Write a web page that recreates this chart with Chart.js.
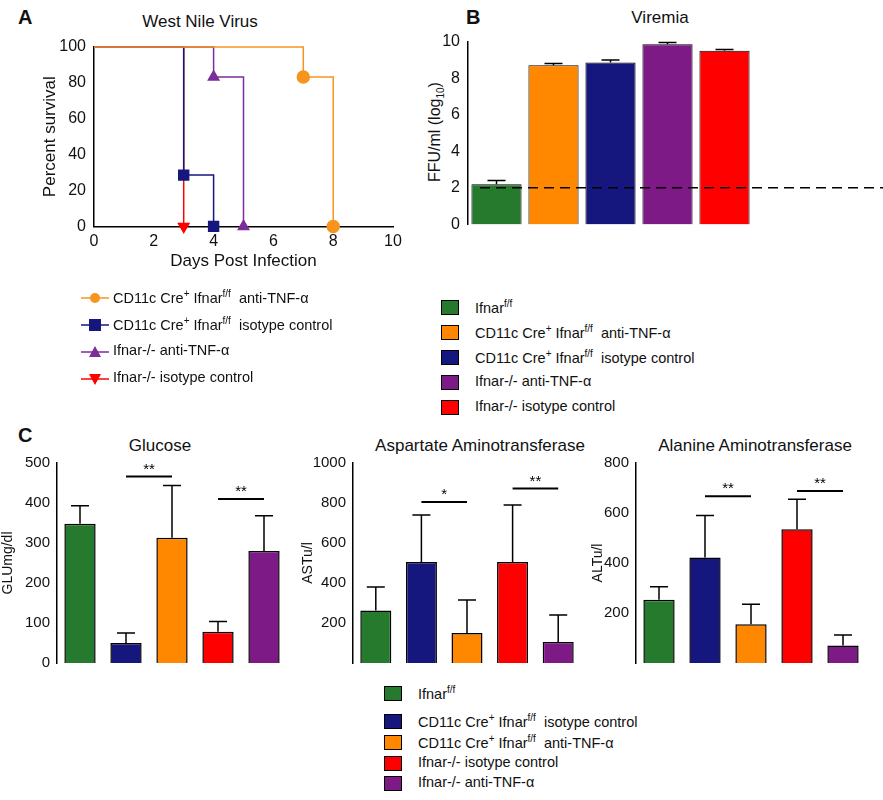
<!DOCTYPE html>
<html><head><meta charset="utf-8">
<script src="https://cdn.jsdelivr.net/npm/chart.js@4"></script>
<style>
body{margin:0;width:883px;height:800px;position:relative;background:#fff;font-family:"Liberation Sans",Arial,sans-serif;color:#111;overflow:hidden}
.abs{position:absolute}
.pl{font-weight:bold;font-size:20px}
.ttl{font-size:17px;text-align:center}
.leg{font-size:14.5px;white-space:nowrap}
.sq{position:absolute;width:16px;height:13px;border:1px solid #000}
.rot{transform:rotate(-90deg);transform-origin:center;white-space:nowrap;font-size:16px}
sup,sub{font-size:10px}
</style></head><body>
<div class="abs pl" style="left:18px;top:6px">A</div>
<div class="abs pl" style="left:466px;top:6px">B</div>
<div class="abs pl" style="left:18px;top:424px">C</div>
<div class="abs ttl" style="left:100px;top:12px;width:200px">West Nile Virus</div>
<div class="abs ttl" style="left:590px;top:8px;width:140px">Viremia</div>
<div class="abs ttl" style="left:80px;top:436px;width:160px">Glucose</div>
<div class="abs ttl" style="left:360px;top:436px;width:240px">Aspartate Aminotransferase</div>
<div class="abs ttl" style="left:640px;top:436px;width:230px">Alanine Aminotransferase</div>
<div class="abs rot" style="left:376px;top:122px;width:120px;text-align:center">FFU/ml (log<sub>10</sub>)</div>

<canvas id="cA" class="abs" style="left:40px;top:30px"></canvas>
<canvas id="cB" class="abs" style="left:420px;top:30px"></canvas>
<canvas id="cG" class="abs" style="left:0px;top:450px"></canvas>
<canvas id="cS" class="abs" style="left:300px;top:450px"></canvas>
<canvas id="cL" class="abs" style="left:590px;top:450px"></canvas>
<canvas id="legA" class="abs" style="left:75px;top:285px" width="40" height="110"></canvas>
<div id="legAtxt"></div>
<div id="legB"></div>
<div id="legC"></div>

<script>
// survival curves (day, percent)
var survOrange = [[0,100],[7,100],[7,83.3],[8,83.3],[8,0]];
var survBlue = [[0,100],[3,100],[3,28.6],[4,28.6],[4,0]];
var survPurple = [[0,100],[4,100],[4,83.3],[5,83.3],[5,0]];
var survRed = [[0,100],[3,100],[3,0]];

var viremiaGroups = ['Ifnar f/f','CD11c Cre+ anti-TNF','CD11c Cre+ isotype','Ifnar-/- anti-TNF','Ifnar-/- isotype'];
var viremiaVals = [2.2, 8.7, 8.85, 9.85, 9.5];
var viremiaErr = [0.2, 0.1, 0.15, 0.1, 0.07];
var viremiaLimit = 2;

var cGroups = ['Ifnar f/f','CD11c isotype','CD11c anti-TNF','Ifnar-/- isotype','Ifnar-/- anti-TNF'];
var gluVals = [348, 50, 313, 78, 280];
var gluErr = [45, 25, 131, 26, 88];
var astVals = [262, 505, 150, 505, 105];
var astErr = [118, 235, 165, 285, 135];
var altVals = [253, 422, 155, 535, 70];
var altErr = [52, 168, 80, 120, 42];
// significance bars: [from group, to group, y value, label]
var gluSig = [[1,2,466,'**'],[3,4,410,'**']];
var astSig = [[1,2,805,'*'],[3,4,872,'**']];
var altSig = [[1,2,667,'**'],[3,4,688,'**']];

var GREEN='#267a2e', ORANGE='#ff8800', NAVY='#16167f', PURPLE='#7d1a86', RED='#ff0000';
var LORANGE='#f7941d', LPURPLE='#7b2d9a';

Chart.defaults.font.family = '"Liberation Sans", Arial, sans-serif';
Chart.defaults.color = '#111';
Chart.defaults.animation = false;

function mkCanvas(id, w, h) {
    var c = document.getElementById(id);
    c.width = w; c.height = h;
    c.style.width = w + 'px'; c.style.height = h + 'px';
    return c;
}

var extras = {
    id: 'extras',
    afterDatasetsDraw: function(chart) {
	var ctx = chart.ctx, o = chart.options.plugins.extras || {};
	var ys = chart.scales.y;
	chart.data.datasets.forEach(function(ds, di) {
	    if (!ds.err) return;
	    var meta = chart.getDatasetMeta(di);
	    meta.data.forEach(function(bar, i) {
		var top = ys.getPixelForValue(ds.data[i] + ds.err[i]);
		ctx.save(); ctx.strokeStyle = '#000'; ctx.lineWidth = 1.5;
		ctx.beginPath();
		ctx.moveTo(bar.x, bar.y); ctx.lineTo(bar.x, top);
		ctx.moveTo(bar.x - 9, top); ctx.lineTo(bar.x + 9, top);
		ctx.stroke(); ctx.restore();
	    });
	});
	if (o.limit != null) {
	    var y = ys.getPixelForValue(o.limit);
	    ctx.save(); ctx.strokeStyle = '#000'; ctx.lineWidth = 1.5; ctx.setLineDash([10, 6]);
	    ctx.beginPath(); ctx.moveTo(chart.chartArea.left + 12, y); ctx.lineTo(chart.width, y);
	    ctx.stroke(); ctx.restore();
	}
	(o.sig || []).forEach(function(s) {
	    var meta = chart.getDatasetMeta(0);
	    var x1 = meta.data[s[0]].x, x2 = meta.data[s[1]].x, y = ys.getPixelForValue(s[2]);
	    ctx.save(); ctx.strokeStyle = '#000'; ctx.lineWidth = 2;
	    ctx.beginPath(); ctx.moveTo(x1, y); ctx.lineTo(x2, y); ctx.stroke();
	    ctx.fillStyle = '#000'; ctx.font = '15px "Liberation Sans"'; ctx.textAlign = 'center';
	    ctx.fillText(s[3], (x1 + x2) / 2, y - 3);
	    ctx.restore();
	});
    }
};

// Panel A
function pts(a) { return a.map(function(p) { return {x: p[0], y: p[1]}; }); }
function rad(n, idx, r) { var a = []; for (var i = 0; i < n; i++) a.push(idx.indexOf(i) >= 0 ? r : 0); return a; }
function survDs(d, col, style, idx, r) {
    return {data: pts(d), borderColor: col, backgroundColor: col, borderWidth: 1.5,
	    pointStyle: style, pointRadius: rad(d.length, idx, r), tension: 0};
}
var redDs = survDs(survRed, RED, 'triangle', [2], 6);
redDs.rotation = 180;
new Chart(mkCanvas('cA', 370, 242).getContext('2d'), {
    type: 'line',
    data: {datasets: [
	survDs(survOrange, LORANGE, 'circle', [2, 4], 6),
	survDs(survPurple, LPURPLE, 'triangle', [2, 4], 6),
	survDs(survBlue, NAVY, 'rect', [2, 4], 7),
	redDs
    ]},
    options: {
	responsive: false, clip: false,
	layout: {padding: {top: 17, right: 17}},
	plugins: {legend: {display: false}, tooltip: {enabled: false}},
	scales: {
	    x: {type: 'linear', min: 0, max: 10, ticks: {stepSize: 2, font: {size: 16}, padding: 0},
		grid: {display: false, tickLength: 6}, border: {color: '#000', width: 1.5},
		title: {display: true, text: 'Days Post Infection', font: {size: 17}, padding: 0}},
	    y: {min: 0, max: 100, ticks: {stepSize: 20, font: {size: 16}, padding: 2},
		grid: {display: false, tickLength: 6}, border: {color: '#000', width: 1.5},
		title: {display: true, text: 'Percent survival', font: {size: 17}, padding: 0},
		afterFit: function(s) { s.width = 54; }}
	}
    }
});

// Panel B
new Chart(mkCanvas('cB', 463, 206).getContext('2d'), {
    type: 'bar',
    data: {labels: viremiaGroups, datasets: [{data: viremiaVals, err: viremiaErr,
	backgroundColor: [GREEN, ORANGE, NAVY, PURPLE, RED], borderColor: '#000', borderWidth: 1,
	categoryPercentage: 1, barPercentage: 0.88}]},
    options: {
	responsive: false,
	layout: {padding: {top: 10, right: 130}},
	plugins: {legend: {display: false}, tooltip: {enabled: false}, extras: {limit: viremiaLimit}},
	scales: {
	    x: {ticks: {display: false}, grid: {display: false}, border: {display: false},
		afterFit: function(s) { s.height = 9; }},
	    y: {min: 0, max: 10, ticks: {stepSize: 2, font: {size: 16}, padding: 2},
		grid: {display: false, tickLength: 6}, border: {color: '#000', width: 1.5},
		afterFit: function(s) { s.width = 48; }}
	}
    },
    plugins: [extras]
});

// Panel C
function cChart(id, w, axisW, padR, vals, err, max, step, title, sig, hideZero) {
    new Chart(mkCanvas(id, w, 225).getContext('2d'), {
	type: 'bar',
	data: {labels: cGroups, datasets: [{data: vals, err: err,
	    backgroundColor: [GREEN, NAVY, ORANGE, RED, PURPLE], borderColor: '#000', borderWidth: 1.5,
	    categoryPercentage: 1, barPercentage: 0.68}]},
	options: {
	    responsive: false,
	    layout: {padding: {top: 13, right: padR, bottom: 0}},
	    plugins: {legend: {display: false}, tooltip: {enabled: false}, extras: {sig: sig}},
	    scales: {
		x: {ticks: {display: false}, grid: {display: false}, border: {display: false},
		    afterFit: function(s) { s.height = 12; }},
		y: {min: 0, max: max, ticks: {stepSize: step, font: {size: 15}, padding: 2,
			callback: function(v) { return (hideZero && v == 0) ? '' : String(v); }},
		    grid: {display: false, tickLength: 5}, border: {color: '#000', width: 1.5},
		    title: {display: true, text: title, font: {size: 14}, padding: 0},
		    afterFit: function(s) { s.width = axisW; }}
	    }
	},
	plugins: [extras]
    });
}
cChart('cG', 300, 57, 13, gluVals, gluErr, 500, 100, 'GLUmg/dl', gluSig, false);
cChart('cS', 295, 53, 14, astVals, astErr, 1000, 200, 'ASTu/l', astSig, true);
cChart('cL', 293, 46, 17, altVals, altErr, 800, 200, 'ALTu/l', altSig, true);

// legend A markers
var la = document.getElementById('legA').getContext('2d');
var legAItems = [
    [LORANGE, 'circle', 'CD11c Cre<sup>+</sup> Ifnar<sup>f/f</sup>&nbsp;&nbsp;anti-TNF-α'],
    [NAVY, 'rect', 'CD11c Cre<sup>+</sup> Ifnar<sup>f/f</sup>&nbsp;&nbsp;isotype control'],
    [LPURPLE, 'tri', 'Ifnar-/- anti-TNF-α'],
    [RED, 'down', 'Ifnar-/- isotype control']
];
var txtA = '';
legAItems.forEach(function(it, i) {
    var y = 13 + i * 27;
    la.strokeStyle = it[0]; la.fillStyle = it[0]; la.lineWidth = 1.5;
    la.beginPath(); la.moveTo(6, y); la.lineTo(34, y); la.stroke();
    la.beginPath();
    if (it[1] == 'circle') la.arc(20, y, 5, 0, 7);
    else if (it[1] == 'rect') la.rect(14, y - 6, 12, 12);
    else if (it[1] == 'tri') { la.moveTo(20, y - 6); la.lineTo(26, y + 5); la.lineTo(14, y + 5); }
    else { la.moveTo(20, y + 6); la.lineTo(26, y - 5); la.lineTo(14, y - 5); }
    la.fill();
    txtA += '<div class="abs leg" style="left:113px;top:' + (288 + i * 27) + 'px">' + it[2] + '</div>';
});
document.getElementById('legAtxt').innerHTML = txtA;

function sqLegend(el, items, x, y0, dys) {
    var h = '';
    items.forEach(function(it, i) {
	var y = y0 + dys[i];
	h += '<div class="sq" style="left:' + x + 'px;top:' + (y + 2) + 'px;background:' + it[0] + '"></div>';
	h += '<div class="abs leg" style="left:' + (x + 34) + 'px;top:' + y + 'px">' + it[1] + '</div>';
    });
    document.getElementById(el).innerHTML = h;
}
sqLegend('legB', [
    [GREEN, 'Ifnar<sup>f/f</sup>'],
    [ORANGE, 'CD11c Cre<sup>+</sup> Ifnar<sup>f/f</sup>&nbsp;&nbsp;anti-TNF-α'],
    [NAVY, 'CD11c Cre<sup>+</sup> Ifnar<sup>f/f</sup>&nbsp;&nbsp;isotype control'],
    [PURPLE, 'Ifnar-/- anti-TNF-α'],
    [RED, 'Ifnar-/- isotype control']
], 441, 298, [0, 25, 50, 75, 100]);
sqLegend('legC', [
    [GREEN, 'Ifnar<sup>f/f</sup>'],
    [NAVY, 'CD11c Cre<sup>+</sup> Ifnar<sup>f/f</sup>&nbsp;&nbsp;isotype control'],
    [ORANGE, 'CD11c Cre<sup>+</sup> Ifnar<sup>f/f</sup>&nbsp;&nbsp;anti-TNF-α'],
    [RED, 'Ifnar-/- isotype control'],
    [PURPLE, 'Ifnar-/- anti-TNF-α']
], 384, 684, [0, 28, 49, 70, 90]);
</script>
</body></html>
